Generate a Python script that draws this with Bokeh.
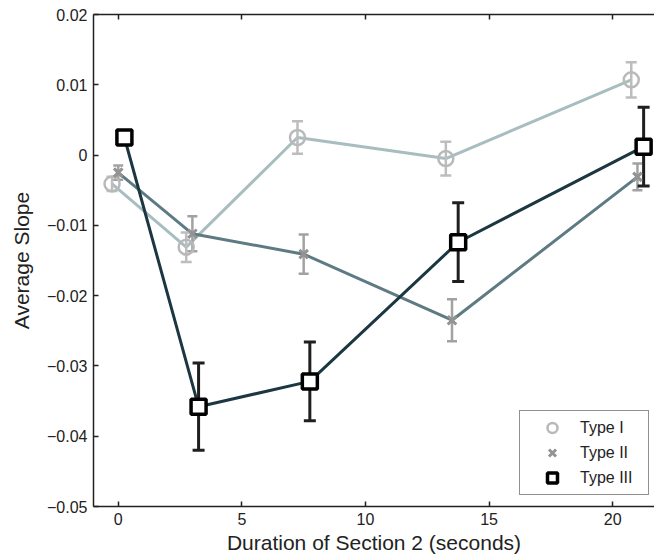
from bokeh.plotting import figure
from bokeh.models import FixedTicker, LinearAxis, Legend, LegendItem, Range1d
from bokeh.embed import file_html
from bokeh.resources import INLINE

# ---- data ----
type1_x = [-0.25, 2.75, 7.25, 13.25, 20.75]
type1_y = [-0.0041, -0.0131, 0.0025, -0.0005, 0.0107]
type1_err = [0.0010, 0.0021, 0.0023, 0.0024, 0.0025]

type2_x = [0.0, 3.0, 7.5, 13.5, 21.0]
type2_y = [-0.0025, -0.0112, -0.0141, -0.0235, -0.0031]
type2_err = [0.0010, 0.0025, 0.0028, 0.0030, 0.0019]

type3_x = [0.25, 3.25, 7.75, 13.75, 21.25]
type3_y = [0.0025, -0.0358, -0.0322, -0.0124, 0.0012]
type3_err = [0.0005, 0.0062, 0.0056, 0.0056, 0.0056]

series_names = ["Type I", "Type II", "Type III"]
x_ticks = [0, 5, 10, 15, 20]
y_ticks = [-0.05, -0.04, -0.03, -0.02, -0.01, 0, 0.01, 0.02]
y_tick_labels = ["\u22120.05", "\u22120.04", "\u22120.03", "\u22120.02", "\u22120.01", "0", "0.01", "0.02"]
x_label = "Duration of Section 2 (seconds)"
y_label = "Average Slope"

FONT = "Liberation Sans"
AX = "#222222"

p = figure(width=654, height=557,
           x_range=Range1d(-1, 21.69), y_range=Range1d(-0.05, 0.02),
           output_backend="svg", toolbar_location=None,
           min_border_left=93, min_border_right=0, min_border_top=14, min_border_bottom=51)
p.outline_line_color = None
p.grid.visible = False
p.background_fill_color = "white"

for ax in (p.xaxis[0], p.yaxis[0]):
    ax.major_tick_in = 5
    ax.major_tick_out = 0
    ax.minor_tick_line_color = None
    ax.axis_line_width = 1.5
    ax.axis_line_color = AX
    ax.major_tick_line_color = AX
    ax.major_tick_line_width = 1.5
    ax.major_label_text_font = FONT
    ax.major_label_text_font_size = "16px"
    ax.major_label_text_color = "#222222"
    ax.axis_label_text_font = FONT
    ax.axis_label_text_font_size = "21px"
    ax.axis_label_text_font_style = "normal"
    ax.axis_label_text_color = "#222222"

p.xaxis[0].ticker = FixedTicker(ticks=x_ticks)
p.xaxis[0].axis_label = x_label
p.xaxis[0].major_label_standoff = 6
p.xaxis[0].axis_label_standoff = 3

p.yaxis[0].ticker = FixedTicker(ticks=y_ticks)
p.yaxis[0].major_label_overrides = {t: l for t, l in zip(y_ticks, y_tick_labels)}
p.yaxis[0].axis_label = y_label
p.yaxis[0].major_label_standoff = 6
p.yaxis[0].axis_label_standoff = 11

top = LinearAxis(ticker=FixedTicker(ticks=x_ticks),
                 major_label_overrides={t: "" for t in x_ticks},
                 major_label_text_font_size="2px",
                 major_label_standoff=0, major_tick_in=5, major_tick_out=0,
                 minor_tick_line_color=None, axis_line_width=1.5, axis_line_color=AX,
                 major_tick_line_color=AX, major_tick_line_width=1.5)
p.add_layout(top, "above")

# ---- connecting lines ----
line_colors = ["#a8bdc0", "#5e7a83", "#1c3742"]
xs_all = [type1_x, type2_x, type3_x]
ys_all = [type1_y, type2_y, type3_y]
errs_all = [type1_err, type2_err, type3_err]
for xs, ys, c in zip(xs_all, ys_all, line_colors):
    p.line(xs, ys, line_color=c, line_width=3)

# ---- error bars ----
err_colors = ["#bdbdbd", "#a2a2a2", "#1f1f1f"]
err_widths = [2.5, 2.5, 3]
cap_sizes = [11, 10, 12]
for xs, ys, es, c, w, cs in zip(xs_all, ys_all, errs_all, err_colors, err_widths, cap_sizes):
    lo = [y - e for y, e in zip(ys, es)]
    hi = [y + e for y, e in zip(ys, es)]
    p.segment(x0=xs, y0=lo, x1=xs, y1=hi, line_color=c, line_width=w)
    p.scatter(xs + xs, hi + lo, marker="dash", size=cs, line_color=c, line_width=w)

# ---- markers ----
r1 = p.scatter(type1_x, type1_y, marker="circle", size=15, fill_color=None,
               line_color="#b9b9b9", line_width=2.5)
r2 = p.scatter(type2_x, type2_y, marker="x", size=12, line_color="#939393", line_width=3)
r3 = p.scatter(type3_x, type3_y, marker="square", size=15, fill_color="white",
               line_color="black", line_width=3.5)

legend = Legend(items=[LegendItem(label=n, renderers=[r]) for n, r in zip(series_names, [r1, r2, r3])],
                location=(426, 11))
legend.label_text_font = FONT
legend.label_text_font_size = "16px"
legend.label_text_color = "#222222"
legend.glyph_width = 56
legend.glyph_height = 25
legend.label_height = 25
legend.label_width = 64
legend.spacing = 0
legend.padding = 4
legend.margin = 0
legend.label_standoff = 0
legend.border_line_color = "#222222"
legend.border_line_width = 1.2
legend.background_fill_alpha = 1.0
p.add_layout(legend)

open("out.html", "w").write(file_html(p, INLINE))
